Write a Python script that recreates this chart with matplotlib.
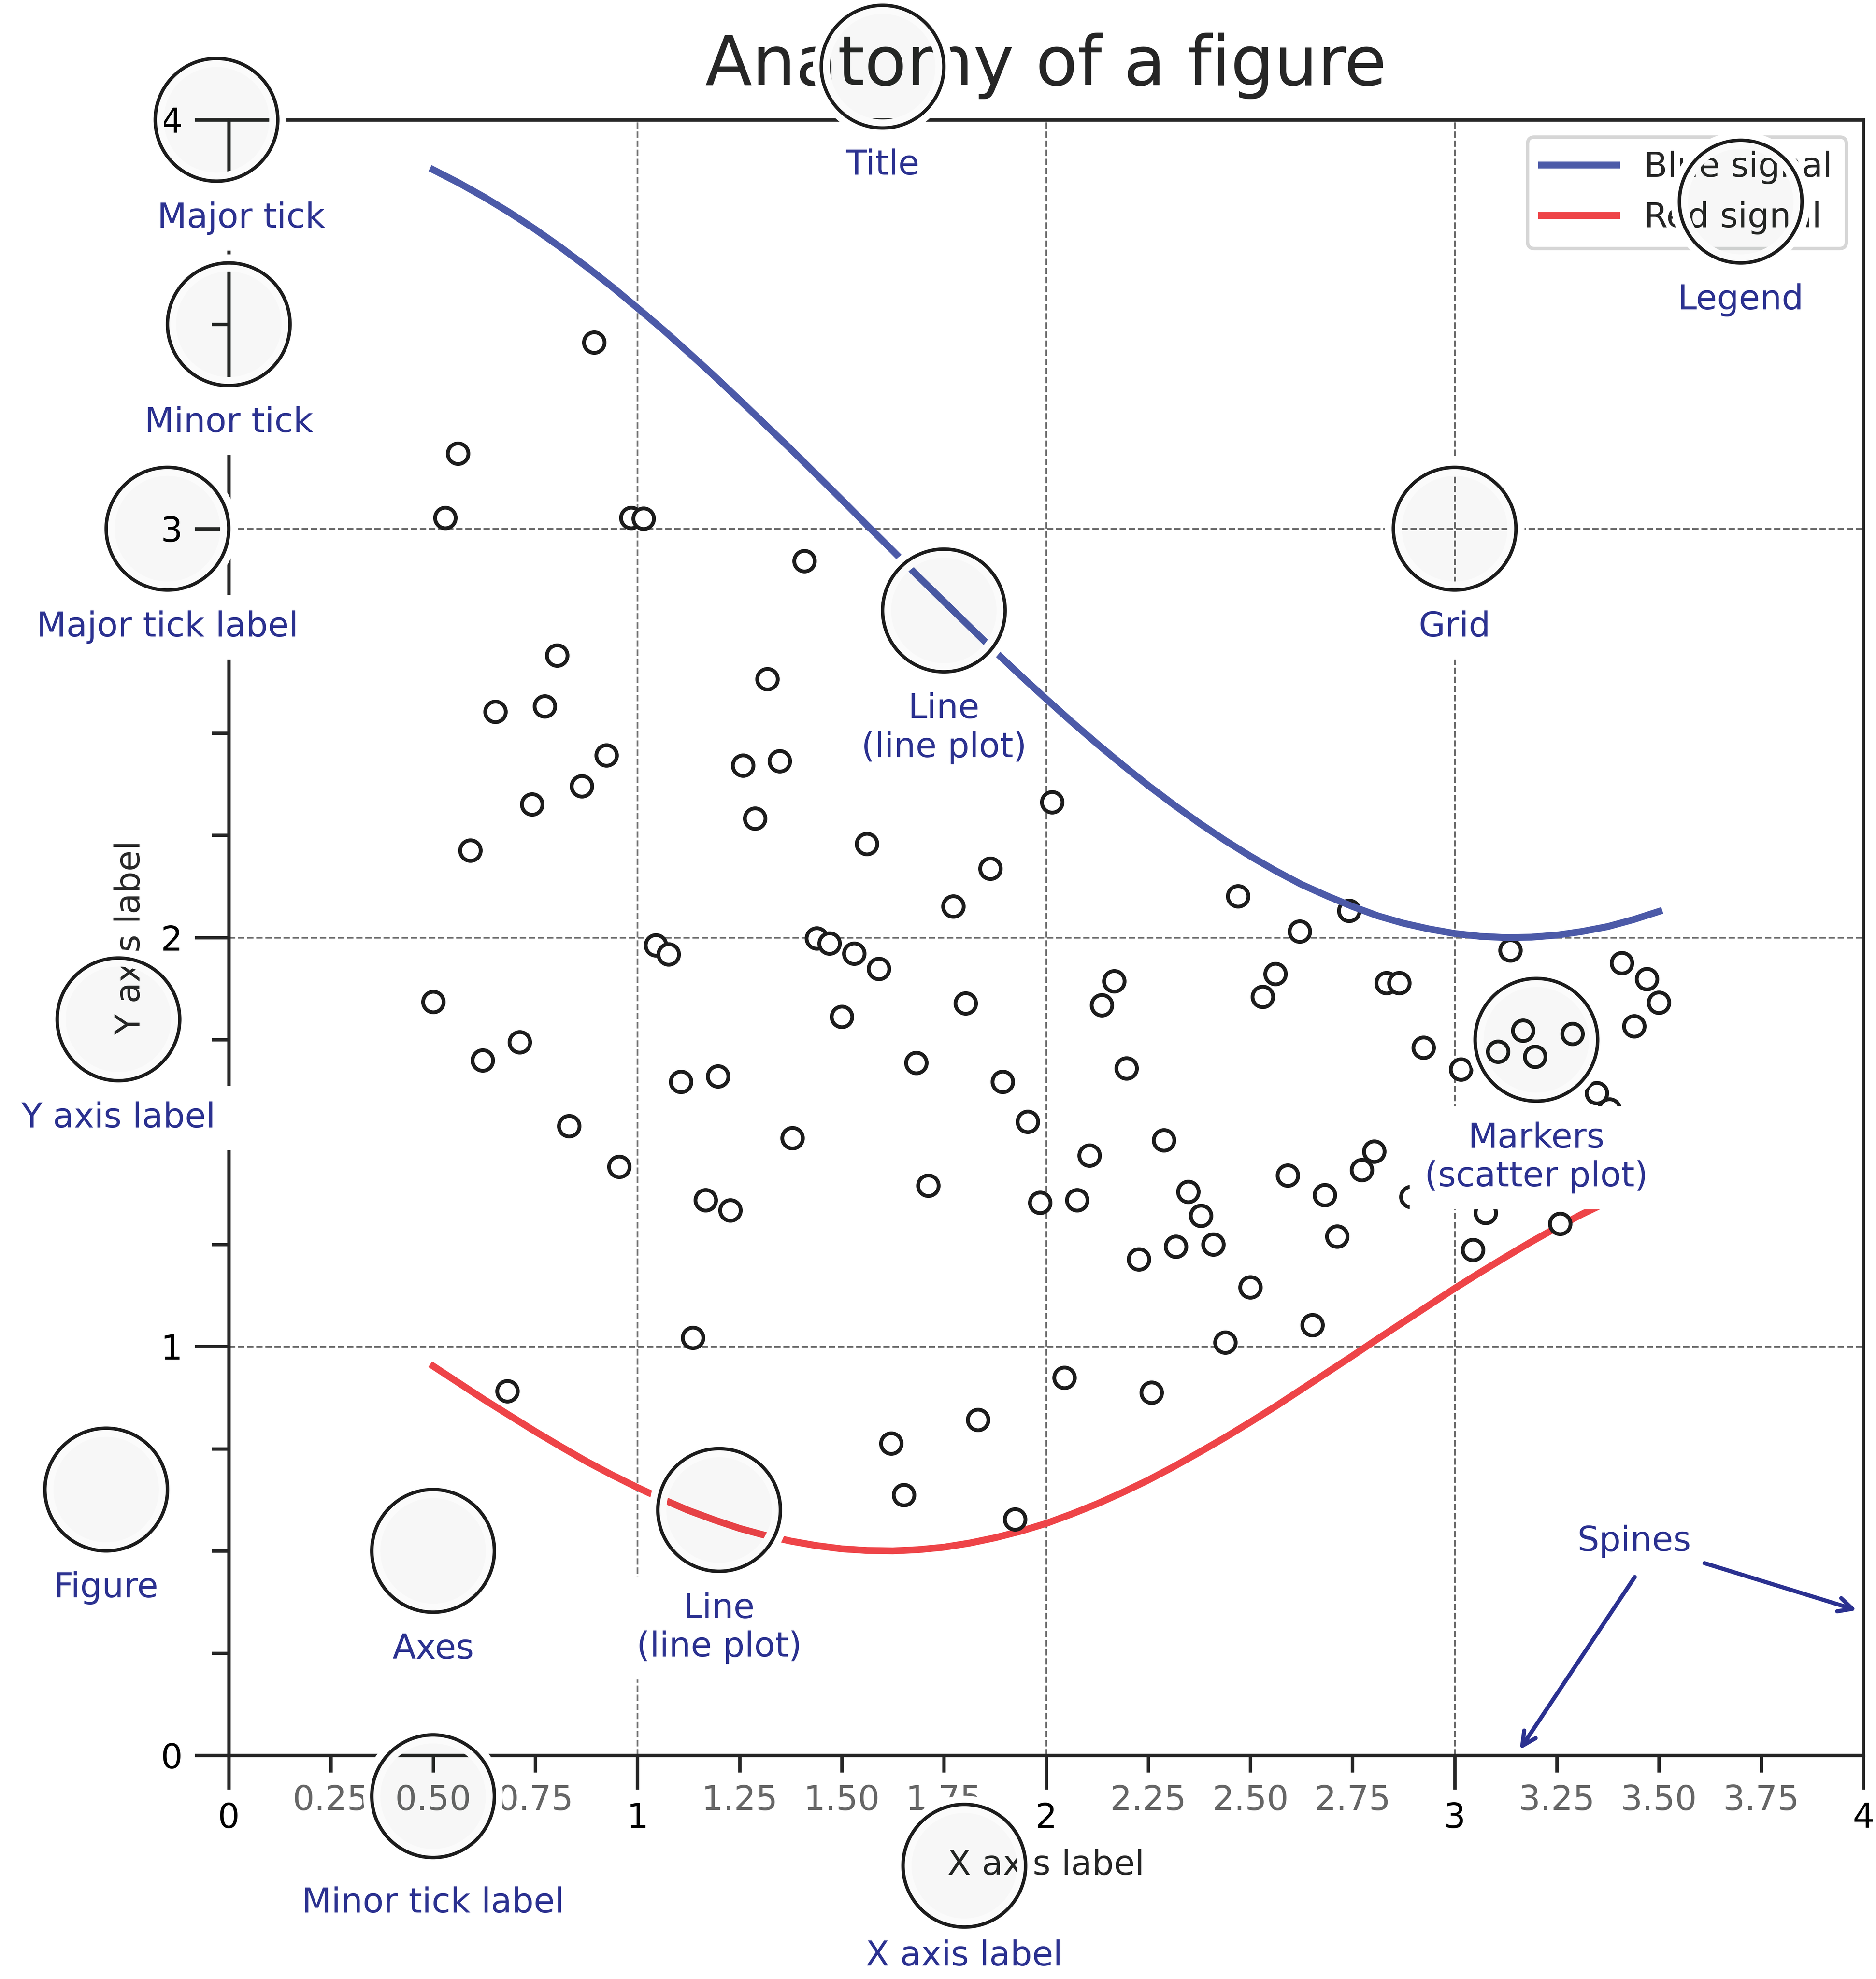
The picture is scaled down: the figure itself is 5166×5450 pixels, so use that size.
import matplotlib.pyplot as plt
from matplotlib.patches import Circle
from matplotlib.patheffects import withStroke
from matplotlib.ticker import AutoMinorLocator, MultipleLocator, FuncFormatter

plt.rcParams['font.family'] = 'DejaVu Sans'
plt.rcParams['text.color'] = '.15'
plt.rcParams['axes.edgecolor'] = '.15'
plt.rcParams['axes.labelcolor'] = '.15'

navy = '#2b3190'
blue = '#4c5aa8'
red = '#ee4448'

# curves, every 0.0625 units
line_x = [0.5, 0.5625, 0.625, 0.6875, 0.75, 0.8125, 0.875, 0.9375, 1.0,
          1.0625, 1.125, 1.1875, 1.25, 1.3125, 1.375, 1.4375, 1.5, 1.5625,
          1.625, 1.6875, 1.75, 1.8125, 1.875, 1.9375, 2.0, 2.0625, 2.125,
          2.1875, 2.25, 2.3125, 2.375, 2.4375, 2.5, 2.5625, 2.625, 2.6875,
          2.75, 2.8125, 2.875, 2.9375, 3.0, 3.0625, 3.125, 3.1875, 3.25,
          3.3125, 3.375, 3.4375, 3.5]
blue_y = [3.878, 3.846, 3.811, 3.773, 3.732, 3.688, 3.641, 3.592, 3.540,
          3.487, 3.431, 3.374, 3.315, 3.255, 3.195, 3.133, 3.071, 3.008,
          2.946, 2.883, 2.822, 2.761, 2.700, 2.641, 2.584, 2.528, 2.474,
          2.422, 2.372, 2.325, 2.280, 2.238, 2.199, 2.163, 2.130, 2.102,
          2.076, 2.053, 2.035, 2.021, 2.010, 2.003, 2.000, 2.001, 2.006,
          2.015, 2.027, 2.044, 2.064]
red_y = [0.952, 0.911, 0.870, 0.831, 0.792, 0.755, 0.719, 0.686, 0.655,
         0.626, 0.599, 0.576, 0.555, 0.538, 0.524, 0.513, 0.505, 0.501,
         0.500, 0.503, 0.509, 0.519, 0.532, 0.548, 0.567, 0.590, 0.615,
         0.643, 0.673, 0.706, 0.741, 0.777, 0.815, 0.854, 0.895, 0.936,
         0.977, 1.019, 1.060, 1.101, 1.142, 1.181, 1.219, 1.256, 1.291,
         1.324, 1.354, 1.383, 1.408]

# scatter markers
marker_x = [0.500, 0.530, 0.561, 0.591, 0.621, 0.652, 0.682, 0.712, 0.742, 0.773,
            0.803, 0.833, 0.864, 0.894, 0.924, 0.955, 0.985, 1.015, 1.045, 1.076,
            1.106, 1.136, 1.167, 1.197, 1.227, 1.258, 1.288, 1.318, 1.348, 1.379,
            1.409, 1.439, 1.470, 1.500, 1.530, 1.561, 1.591, 1.621, 1.652, 1.682,
            1.712, 1.742, 1.773, 1.803, 1.833, 1.864, 1.894, 1.924, 1.955, 1.985,
            2.015, 2.045, 2.076, 2.106, 2.136, 2.167, 2.197, 2.227, 2.258, 2.288,
            2.318, 2.348, 2.379, 2.409, 2.439, 2.470, 2.500, 2.530, 2.561, 2.591,
            2.621, 2.652, 2.682, 2.712, 2.742, 2.773, 2.803, 2.833, 2.864, 2.894,
            2.924, 2.955, 2.985, 3.015, 3.045, 3.076, 3.106, 3.136, 3.167, 3.197,
            3.227, 3.258, 3.288, 3.318, 3.348, 3.379, 3.409, 3.439, 3.470, 3.500]
marker_y = [1.843, 3.027, 3.184, 2.213, 1.700, 2.552, 0.891, 1.744, 2.326, 2.566,
            2.690, 1.539, 2.370, 3.456, 2.446, 1.440, 3.027, 3.025, 1.981, 1.959,
            1.647, 1.021, 1.358, 1.661, 1.333, 2.421, 2.291, 2.632, 2.432, 1.510,
            2.921, 1.998, 1.986, 1.806, 1.961, 2.229, 1.924, 0.763, 0.637, 1.694,
            1.393, 2.500, 2.076, 1.839, 0.821, 2.169, 1.647, 0.577, 1.550, 1.352,
            2.331, 0.924, 1.358, 1.467, 1.835, 1.893, 1.680, 1.213, 0.887, 1.504,
            1.244, 1.378, 1.320, 1.250, 1.010, 2.101, 1.145, 1.855, 1.911, 1.418,
            2.015, 1.052, 1.370, 1.269, 2.066, 1.432, 1.477, 1.889, 1.889, 1.366,
            1.731, 1.520, 1.450, 1.678, 1.236, 1.327, 1.721, 1.969, 1.773, 1.709,
            1.400, 1.300, 1.765, 1.550, 1.620, 1.580, 1.938, 1.783, 1.899, 1.841]

fig = plt.figure(figsize=(5166 / 680, 5450 / 680), dpi=680)
ax = fig.add_axes([630 / 5166, 616 / 5450, 4501 / 5166, 4504 / 5450])


def minor_tick(x, pos):
    if not x % 1.0:
        return ""
    return "%.2f" % x


ax.xaxis.set_major_locator(MultipleLocator(1.000))
ax.xaxis.set_minor_locator(AutoMinorLocator(4))
ax.yaxis.set_major_locator(MultipleLocator(1.000))
ax.yaxis.set_minor_locator(AutoMinorLocator(4))
ax.xaxis.set_minor_formatter(FuncFormatter(minor_tick))

ax.set_xlim(0, 4)
ax.set_ylim(0, 4)

ax.tick_params(which='major', width=1.0, length=10, labelsize=10, color='.15')
ax.tick_params(which='minor', width=1.0, length=5, labelsize=10,
               labelcolor='0.4', color='.15')
for s in ax.spines.values():
    s.set_linewidth(1.0)

ax.grid(linestyle="--", linewidth=0.5, color='0.42', zorder=-10)

ax.plot(line_x, blue_y, c=blue, lw=2, label="Blue signal", zorder=10)
ax.plot(line_x, red_y, c=red, lw=2, label="Red signal")
ax.plot(marker_x, marker_y, linewidth=0, marker='o', markersize=6,
        markerfacecolor='w', markeredgecolor='#1c1c1c', markeredgewidth=1.1)

ax.set_title("Anatomy of a figure", fontsize=20, verticalalignment='bottom')
ax.set_xlabel("X axis label", fontsize=10)
ax.set_ylabel("Y axis label", fontsize=10)

ax.legend(loc='upper right', fontsize=10, handlelength=2.2)


def circle(x, y, radius=0.15):
    # face gets drawn twice (stroke pass + normal pass), so keep alpha low
    c = Circle((x, y), radius, clip_on=False, zorder=10, linewidth=1,
               edgecolor='#1c1c1c', facecolor=(0.0, 0.15, 0.08, 0.016),
               path_effects=[withStroke(linewidth=5, foreground='w')])
    ax.add_artist(c)


def text(x, y, label):
    ax.text(x, y, label, backgroundcolor="white", fontsize=10,
            ha='center', va='top', color=navy)


# Minor tick label
circle(0.50, -0.10)
text(0.50, -0.32, "Minor tick label")

# Major tick
circle(-0.03, 4.00)
text(0.03, 3.80, "Major tick")

# Minor tick
circle(0.00, 3.50)
text(0.00, 3.30, "Minor tick")

# Major tick label
circle(-0.15, 3.00)
text(-0.15, 2.80, "Major tick label")

# X label
circle(1.80, -0.27)
text(1.80, -0.45, "X axis label")

# Y label
circle(-0.27, 1.80)
text(-0.27, 1.60, "Y axis label")

# Title
circle(1.60, 4.13)
text(1.60, 3.93, "Title")

# Blue plot
circle(1.75, 2.80)
text(1.75, 2.60, "Line\n(line plot)")

# Red plot
circle(1.20, 0.60)
text(1.20, 0.40, "Line\n(line plot)")

# Scatter plot
circle(3.20, 1.75)
text(3.20, 1.55, "Markers\n(scatter plot)")

# Grid
circle(3.00, 3.00)
text(3.00, 2.80, "Grid")

# Legend
circle(3.70, 3.80)
text(3.70, 3.60, "Legend")

# Axes
circle(0.50, 0.50)
text(0.50, 0.30, "Axes")

# Figure
circle(-0.30, 0.65)
text(-0.30, 0.45, "Figure")

ax.annotate('Spines', xy=(4.0, 0.35), xycoords='data',
            xytext=(3.3, 0.5), textcoords='data', color=navy, fontsize=10,
            arrowprops=dict(arrowstyle='->', connectionstyle="arc3",
                            color=navy, lw=1.2))
ax.annotate('', xy=(3.15, 0.0), xycoords='data',
            xytext=(3.45, 0.45), textcoords='data',
            arrowprops=dict(arrowstyle='->', connectionstyle="arc3",
                            color=navy, lw=1.2))

fig.savefig('out.png', dpi=680)
